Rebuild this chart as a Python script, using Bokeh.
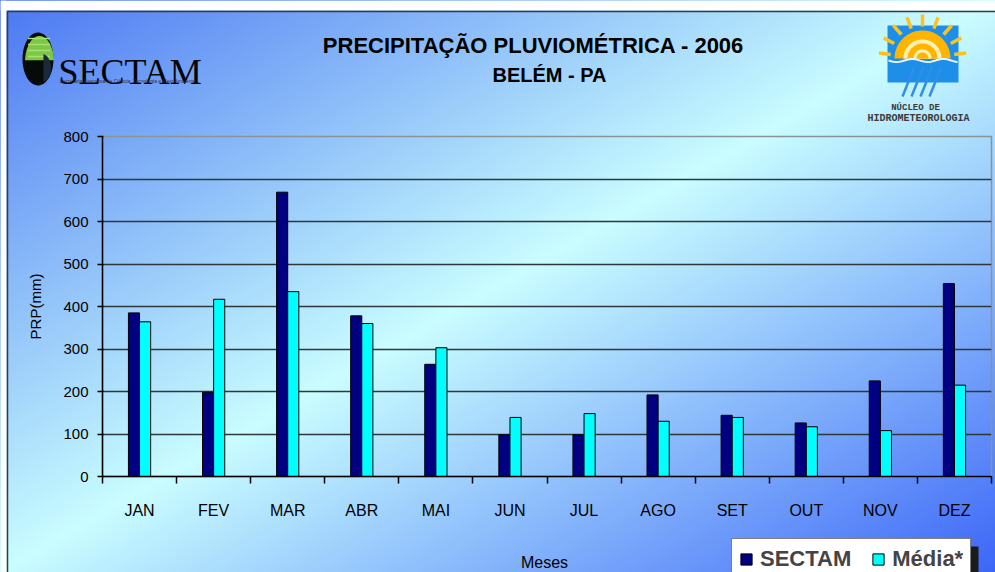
import numpy as np
from bokeh.plotting import figure
from bokeh.models import (Range1d, LinearAxis, FixedTicker, Legend, LegendItem, ColumnDataSource)
from bokeh.core.properties import value
from bokeh.transform import dodge
from bokeh.embed import file_html
from bokeh.resources import INLINE

# ---------------- data ----------------
months = ["JAN", "FEV", "MAR", "ABR", "MAI", "JUN", "JUL", "AGO", "SET", "OUT", "NOV", "DEZ"]
sectam = [385, 198, 669, 378, 264, 98, 98, 192, 144, 126, 225, 454]
media = [364, 417, 435, 360, 303, 139, 148, 130, 139, 117, 108, 215]
y_ticks = [0, 100, 200, 300, 400, 500, 600, 700, 800]
title_1 = "PRECIPITAÇÃO PLUVIOMÉTRICA - 2006"
title_2 = "BELÉM - PA"
y_label = "PRP(mm)"
x_label = "Meses"
series_names = ["SECTAM", "Média*"]
series_colors = ["#000080", "#00ffff"]

FONT = "Liberation Sans"
W, H = 995, 572
n = len(months)
centres = [i + 0.5 for i in range(n)]
src = ColumnDataSource(dict(pos=centres, month=months, sectam=sectam, media=media))

# ================= background / decoration layer =================
bg = figure(width=W, height=H, x_range=Range1d(0, W), y_range=Range1d(H, 0),
            min_border=0, x_axis_location=None, y_axis_location=None,
            toolbar_location=None, output_backend="svg")
bg.grid.visible = False
bg.outline_line_color = None
bg.background_fill_alpha = 0
bg.border_fill_alpha = 0
bg.styles = {"background": "linear-gradient(to bottom right, #4a76f2 0%, #c9fdff 50%, #3c66f7 100%)"}

# white page margin and outer border of the picture
bg.quad(left=[0, 0], right=[W, 6], top=[0, 0], bottom=[10, H], fill_color="white", line_color=None)
bg.quad(left=[7], right=[W + 20], top=[11], bottom=[H + 20], fill_alpha=0,
        line_color="#3a3a3a", line_width=1.5)

def txt(t, x, y, size, style="normal", font=FONT, align="center", color="black", base="middle"):
    bg.text(x=[x], y=[y], text=[t], text_font=value(font), text_font_size=value(size),
            text_font_style=style, text_align=align, text_baseline=base, text_color=color)

txt(title_1, 533, 45, "22px", "bold")
txt(title_2, 549, 74, "20px", "bold")
txt(x_label, 544, 562, "16px")

# SECTAM logo
t = np.linspace(0, 2 * np.pi, 80)
cx, cy, rx, ry = 37.5, 58.5, 15.5, 26.5
bg.patch(list(cx + rx * np.cos(t)), list(cy + ry * np.sin(t)), fill_color="#060a08", line_color=None)
tt = np.linspace(np.pi * 1.02, np.pi * 1.98, 50)
bg.patch(list(cx + 1.5 + (rx - 1) * np.cos(tt)), list(cy + 3 + (ry - 0.5) * np.sin(tt)),
         fill_color="#7cc846", line_color=None)
for yy in [38, 44, 50, 56]:
    bg.segment(x0=[cx - 10], y0=[yy], x1=[cx + 12], y1=[yy], line_color="#a6e070", line_width=1.5)
tt2 = np.linspace(-np.pi * 0.45, np.pi * 0.45, 30)
bg.patch(list(cx + 4 + 9 * np.cos(tt2)), list(cy + 9 + 14 * np.sin(tt2)), fill_color="#1a2a3a", line_color=None)
txt("SECTAM", 58, 71, "36px", "normal", "Liberation Serif", "left", "#050505", "alphabetic")
txt("Secretaria Executiva de Ciência, Tecnologia e Meio Ambiente", 59, 80, "5px",
    "normal", FONT, "left", "#2a2a44")

# Núcleo de Hidrometeorologia logo
bg.quad(left=[887], right=[958], top=[25], bottom=[82], fill_color="#1e8fe8", line_color=None)
scx, scy = 922, 58
ang = np.linspace(np.pi * 1.04, np.pi * 1.96, 9)
bg.segment(x0=list(scx + 32 * np.cos(ang)), y0=list(scy + 32 * np.sin(ang)),
           x1=list(scx + 44 * np.cos(ang)), y1=list(scy + 44 * np.sin(ang)),
           line_color="#ffc21a", line_width=3.5)
for rr, col in [(28, "#ffb400"), (19, "#fff2b0"), (15, "#ffb400"), (9, "#fff2b0"), (6, "#ffb400")]:
    ss = np.linspace(np.pi, 2 * np.pi, 40)
    bg.patch(list(scx + rr * np.cos(ss)), list(scy + rr * np.sin(ss)), fill_color=col, line_color=None)
wx = np.linspace(888, 957, 40)
bg.line(list(wx), list(scy + 2 + 1.5 * np.sin((wx - 888) / 5)), line_color="#e8f4ff", line_width=2)
rx0 = [902, 911, 920, 929]
bg.segment(x0=rx0, y0=[96] * 4, x1=[x + 12 for x in rx0], y1=[66] * 4,
           line_color="#2f8fe6", line_width=2.5)
txt("NÚCLEO DE", 915, 107, "9px", "bold", "Liberation Mono", "center", "#3a3a3a")
txt("HIDROMETEOROLOGIA", 918, 118, "10px", "bold", "Liberation Mono", "center", "#3a3a3a")

# legend (bottom right, cut by the picture edge); hidden proxy renderers carry the swatch styles
bg.quad(left=[737], right=[978], top=[546], bottom=[H + 30], fill_color="#1a1a1a", line_color=None)
proxy = [bg.vbar(x=[0], top=[0], width=1, fill_color=c, line_color="black", line_width=1, visible=False)
         for c in series_colors]
legend = Legend(items=[LegendItem(label=nm, renderers=[r]) for nm, r in zip(series_names, proxy)],
                orientation="horizontal", location=(731, -8),
                background_fill_color="white", background_fill_alpha=1,
                border_line_color="black", border_line_width=1.5,
                label_text_font=FONT, label_text_font_size="22px", label_text_font_style="bold",
                glyph_width=14, glyph_height=14, spacing=20, padding=7, margin=0,
                label_standoff=7, inactive_fill_alpha=0)
bg.add_layout(legend, "center")

# ================= chart layer =================
p = figure(x_range=Range1d(0, n), y_range=Range1d(0, 800),
           width=W, height=H, output_backend="svg", toolbar_location=None,
           x_axis_location=None,
           min_border_left=102, min_border_right=4, min_border_top=136, min_border_bottom=96)
p.border_fill_alpha = 0
p.background_fill_alpha = 0
p.outline_line_color = "#8a9494"
p.outline_line_width = 1.5
p.margin = (-H, 0, 0, 0)

r1 = p.vbar(x=dodge("pos", -0.075), top="sectam", width=0.15, source=src,
            fill_color=series_colors[0], line_color="black", line_width=1)
r2 = p.vbar(x=dodge("pos", 0.075), top="media", width=0.15, source=src,
            fill_color=series_colors[1], line_color="black", line_width=1)

p.xgrid.visible = False
p.ygrid.ticker = FixedTicker(ticks=y_ticks[1:-1])
p.ygrid.grid_line_color = "#2e3838"
p.ygrid.grid_line_width = 1.7

ya = p.yaxis[0]
ya.ticker = FixedTicker(ticks=y_ticks)
ya.minor_tick_line_color = None
ya.major_tick_in = 1
ya.major_tick_out = 5
ya.major_tick_line_width = 1.5
ya.axis_line_color = "black"
ya.axis_line_width = 1.5
ya.major_label_standoff = 9
ya.major_label_text_font = FONT
ya.major_label_text_font_size = "15px"
ya.major_label_text_color = "black"
ya.axis_label = y_label
ya.axis_label_text_font = FONT
ya.axis_label_text_font_size = "15px"
ya.axis_label_text_font_style = "normal"
ya.axis_label_text_color = "black"
ya.axis_label_standoff = 16

xa = LinearAxis(ticker=FixedTicker(ticks=centres, minor_ticks=list(range(n + 1))),
                major_label_overrides={c: m for c, m in zip(centres, months)},
                axis_line_color="black", axis_line_width=1.5,
                major_tick_line_color=None, major_tick_out=0, major_tick_in=0,
                minor_tick_line_color="black", minor_tick_line_width=1.5,
                minor_tick_out=7, minor_tick_in=0,
                major_label_standoff=18, major_label_text_font=FONT,
                major_label_text_font_size="16px", major_label_text_color="black")
p.add_layout(xa, "below")

open("out.html", "w").write(file_html([bg, p], INLINE))
